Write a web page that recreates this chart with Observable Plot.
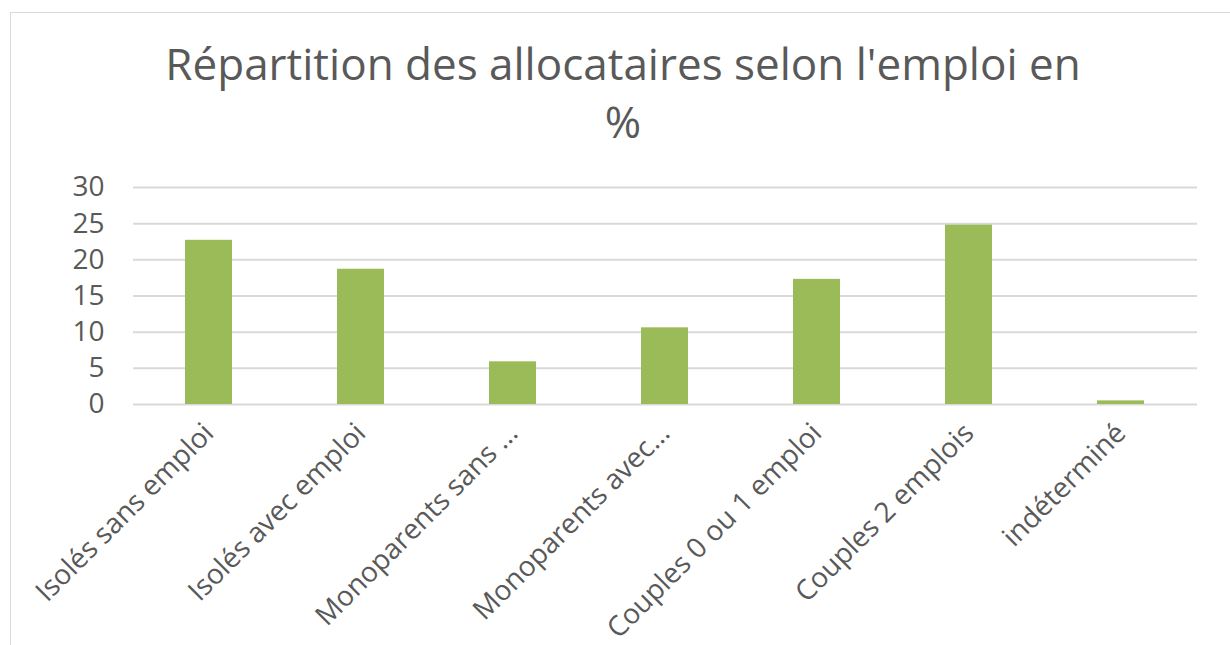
<!DOCTYPE html>
<html>
<head>
<meta charset="utf-8">
<script src="https://cdn.jsdelivr.net/npm/d3@7"></script>
<script src="https://cdn.jsdelivr.net/npm/@observablehq/plot@0.6"></script>
<style>
  html, body { margin: 0; padding: 0; background: #fff; width: 1230px; height: 645px; overflow: hidden; }
  #frame { position: absolute; left: 10px; top: 12px; width: 1300px; height: 700px; border: 1px solid #d9d9d9; box-sizing: border-box; }
  #title { position: absolute; left: 0; top: 34px; width: 1246px; text-align: center; font-family: "Open Sans", sans-serif; font-size: 44px; line-height: 58px; color: #595959; }
  #chart { position: absolute; left: 0; top: 160px; }
</style>
</head>
<body>
<div id="frame"></div>
<div id="title">Répartition des allocataires selon l'emploi en<br>%</div>
<div id="chart"></div>
<script>
const categories = ["Isolés sans emploi", "Isolés avec emploi", "Monoparents sans …", "Monoparents avec…", "Couples 0 ou 1 emploi", "Couples 2 emplois", "indéterminé"];
const values = [22.7, 18.7, 5.9, 10.6, 17.3, 24.8, 0.5];
const yTicks = [0, 5, 10, 15, 20, 25, 30];

const data = categories.map((c, i) => ({category: c, value: values[i]}));

const chart = Plot.plot({
  width: 1230,
  height: 485,
  marginLeft: 133,
  marginRight: 33,
  marginTop: 27,
  marginBottom: 241,
  style: {fontFamily: "Open Sans, sans-serif", fontSize: "28px", color: "#595959", background: "transparent"},
  x: {domain: categories, paddingInner: 0.69, paddingOuter: 0.345, label: null},
  y: {domain: [0, 30], label: null},
  marks: [
    Plot.gridY(yTicks, {stroke: "#d9d9d9", strokeOpacity: 1, strokeWidth: 2}),
    Plot.barY(data, {x: "category", y: "value", fill: "#9BBB59"}),
    Plot.axisY(yTicks, {tickSize: 0, tickPadding: 29, fontSize: 28, fill: "#595959"}),
    Plot.axisX({tickSize: 0, tickPadding: 24, tickRotate: -45, fontSize: 28, fill: "#595959"})
  ]
});
document.getElementById("chart").appendChild(chart);
</script>
</body>
</html>
